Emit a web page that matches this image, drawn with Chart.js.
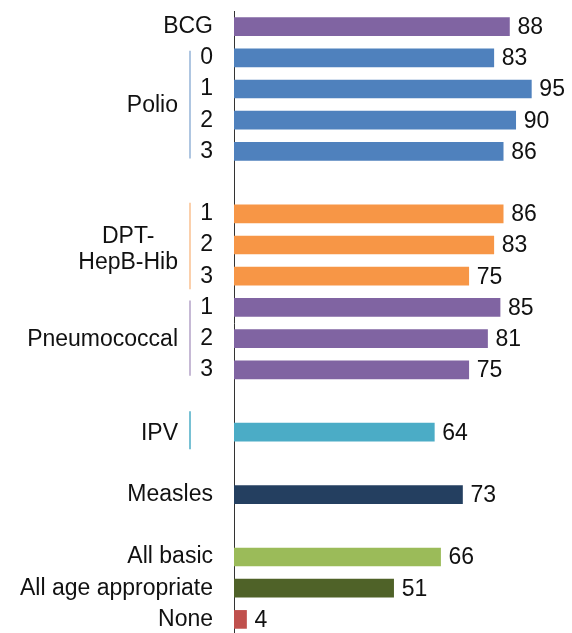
<!DOCTYPE html>
<html>
<head>
<meta charset="utf-8">
<script src="https://cdn.jsdelivr.net/npm/chart.js@4/dist/chart.umd.min.js"></script>
<style>
html,body{margin:0;padding:0;background:#fff;overflow:hidden;}
#wrap{width:572px;height:635px;position:relative;}
</style>
</head>
<body>
<div id="wrap"><canvas id="c"></canvas></div>
<script>
// ---- data ----
const categories = ['BCG','0','1','2','3','','1','2','3','1','2','3','','','','Measles','','All basic','All age appropriate','None'];
const values = [88,83,95,90,86,null,86,83,75,85,81,75,null,64,null,73,null,66,51,4];
const groupLabels = [['Polio'],['DPT-','HepB-Hib'],['Pneumococcal'],['IPV']];
const groupFirst = [1,6,9,13];
const groupLast = [4,8,11,13];

// ---- styles ----
const PURPLE='#8064A2', BLUE='#4F81BD', ORANGE='#F79646', TEAL='#4BACC6', NAVY='#243F60', GREEN='#9BBB59', OLIVE='#4F6228', RED='#C0504D';
const barColors = [PURPLE,BLUE,BLUE,BLUE,BLUE,null,ORANGE,ORANGE,ORANGE,PURPLE,PURPLE,PURPLE,null,TEAL,null,NAVY,null,GREEN,OLIVE,RED];
const bracketColors = ['#95B3D7','#FAC090','#B3A2C7','#4BACC6'];
const bracketExt = [[7,7],[11,13],[7,6],[21,17]];
const FONT = "'Liberation Sans', Arial, sans-serif";
const FS = 23;
const VFS = 23;

const valueLabels = {
  id:'valueLabels',
  afterDatasetsDraw(chart){
    const ctx = chart.ctx;
    const meta = chart.getDatasetMeta(0);
    ctx.save();
    ctx.font = VFS + 'px ' + FONT;
    ctx.fillStyle = '#111';
    ctx.textAlign = 'left';
    ctx.textBaseline = 'middle';
    meta.data.forEach((el,i)=>{
      const v = values[i];
      if (v === null || v === undefined) return;
      ctx.fillText(String(v), el.x + 8, el.y + 1);
    });
    ctx.restore();
  }
};

const groupPlugin = {
  id:'groupPlugin',
  afterDraw(chart){
    const ctx = chart.ctx;
    const ys = chart.scales.y;
    ctx.save();
    ctx.font = FS + 'px ' + FONT;
    ctx.fillStyle = '#111';
    ctx.textBaseline = 'middle';
    groupLabels.forEach((lines,g)=>{
      const y0 = ys.getPixelForValue(groupFirst[g]);
      const y1 = ys.getPixelForValue(groupLast[g]);
      ctx.strokeStyle = bracketColors[g];
      ctx.lineWidth = 1.5;
      ctx.beginPath();
      ctx.moveTo(190, y0 - bracketExt[g][0]);
      ctx.lineTo(190, y1 + bracketExt[g][1]);
      ctx.stroke();
      const widths = lines.map(l=>ctx.measureText(l).width);
      const maxW = Math.max(...widths);
      const cx = 178 - maxW/2;
      const lh = 26;
      const mid = (y0+y1)/2 + (lines.length>1 ? 5 : 1);
      ctx.textAlign = 'center';
      lines.forEach((l,k)=>{
        ctx.fillText(l, cx, mid + (k - (lines.length-1)/2)*lh);
      });
    });
    ctx.restore();
  }
};

new Chart(document.getElementById('c'), {
  type:'bar',
  data:{
    labels: categories,
    datasets:[{
      data: values,
      backgroundColor: barColors,
      borderWidth: 0,
      barThickness: 18,
      categoryPercentage: 1,
      barPercentage: 1
    }]
  },
  options:{
    indexAxis:'y',
    responsive:true,
    maintainAspectRatio:false,
    animation:false,
    layout:{padding:{top:11,bottom:0,left:0,right:25}},
    plugins:{legend:{display:false},tooltip:{enabled:false}},
    scales:{
      x:{display:false,min:0,max:100},
      y:{
        grid:{display:false,drawTicks:false},
        border:{display:true,color:'#333',width:1},
        ticks:{autoSkip:false,padding:21,color:'#111',font:{family:FONT,size:FS}},
        afterFit(s){ s.width = 234; s.paddingTop = 0; s.paddingBottom = 0; }
      }
    }
  },
  plugins:[valueLabels, groupPlugin]
});
</script>
</body>
</html>
